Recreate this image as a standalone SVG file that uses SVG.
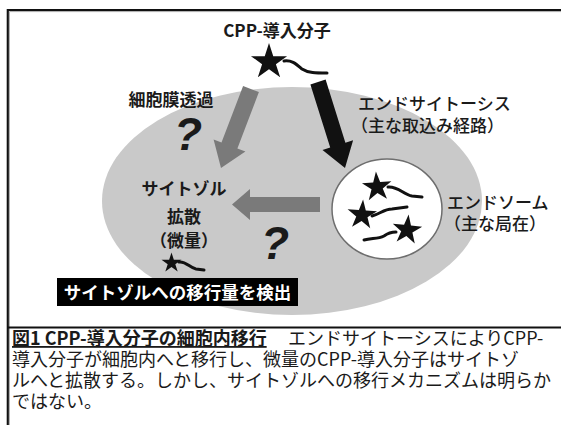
<svg xmlns="http://www.w3.org/2000/svg" xmlns:xlink="http://www.w3.org/1999/xlink" width="561" height="425" viewBox="0 0 561 425">
  <style>
    .jp { font-family: "Noto Sans CJK JP", "Noto Sans", sans-serif; fill: #1a1a1a; }
    .lbl { font-size: 17px; font-weight: 700; }
    .lbl-r { font-size: 17px; font-weight: 500; }
    .q { font-family: "Liberation Sans", Arial, sans-serif; font-size: 46px; font-weight: 700; font-style: italic; fill: #1a1a1a; }
    .cap { font-size: 18px; font-weight: 400; }
    .cap-title { font-weight: 700; text-decoration: underline; }
    .tail { fill: none; stroke: #111; stroke-width: 3; stroke-linecap: round; }
    .arrow-gray { fill: #7a7a7a; }
    .arrow-black { fill: #111; }
  </style>
  <defs>
    <!-- five-point star, outer radius 10 -->
    <path id="star" d="M0,-10 L2.245,-3.09 L9.511,-3.09 L3.633,1.18 L5.878,8.09 L0,3.82 L-5.878,8.09 L-3.633,1.18 L-9.511,-3.09 L-2.245,-3.09 Z" fill="#111"/>
  </defs>

  <rect width="561" height="425" fill="#ffffff"/>

  <!-- frame -->
  <g id="frame" fill="none">
    <path d="M562,10 H7.8 V426" stroke="#111" stroke-width="2.2"/>
    <path d="M562,11.6 H9.4 V426" stroke="#aaa" stroke-width="1"/>
    <path d="M7,327.5 H562" stroke="#111" stroke-width="2.2"/>
  </g>

  <!-- cell -->
  <g id="cell">
    <ellipse cx="292" cy="201" rx="190" ry="114" fill="#c9c9c9"/>
  </g>

  <!-- incoming CPP-conjugate -->
  <g id="cpp">
    <text class="jp lbl" x="277" y="37" text-anchor="middle">CPP-導入分子</text>
    <use xlink:href="#star" transform="translate(269,62) scale(1.9)"/>
    <path class="tail" d="M284,61 C292,60 296,64 302,69 C308,73 316,73 327,73"/>
  </g>

  <!-- arrows -->
  <g id="connectors">
    <polygon class="arrow-gray" points="243.1,86 258.9,92 237.4,148.6 245.4,151.6 221,168 213.6,139.6 221.5,142.6"/>
    <polygon class="arrow-black" points="310.4,84.4 325.6,79.6 345.4,142.7 353.1,140.3 345,168 322.5,149.9 330.2,147.5"/>
    <polygon class="arrow-gray" points="320,197 250,197 250,189 232,204.5 250,220 250,212 320,212"/>
  </g>

  <!-- membrane permeation -->
  <g id="permeation">
    <text class="jp lbl" x="171" y="106" text-anchor="middle">細胞膜透過</text>
    <text class="q" x="188" y="150" text-anchor="middle">?</text>
  </g>

  <!-- endocytosis -->
  <g id="endocytosis">
    <text class="jp lbl-r" x="358" y="110">エンドサイトーシス</text>
    <text class="jp lbl-r" x="351" y="132">（主な取込み経路）</text>
  </g>

  <!-- endosome -->
  <g id="endosome">
    <ellipse cx="387" cy="209" rx="55" ry="50" fill="#ffffff" stroke="#6e6e6e" stroke-width="1.5"/>
    <use xlink:href="#star" transform="translate(377,187) rotate(-4) scale(1.55)"/>
    <path class="tail" d="M388,187 C398,186 404,195 412,196 L422,197"/>
    <use xlink:href="#star" transform="translate(362,215) rotate(4) scale(1.55)"/>
    <path class="tail" d="M372,216 C380,214 384,209 392,209 L407,207"/>
    <use xlink:href="#star" transform="translate(407,230) rotate(6) scale(1.55)"/>
    <path class="tail" d="M364,240 C372,238 378,239 384,236 C388,233 391,232 396,232"/>
    <text class="jp lbl-r" x="447" y="209">エンドソーム</text>
    <text class="jp lbl-r" x="444" y="230">（主な局在）</text>
  </g>

  <!-- cytosolic diffusion -->
  <g id="cytosol">
    <text class="jp lbl" x="184" y="195" text-anchor="middle">サイトゾル</text>
    <text class="jp lbl" x="184" y="223" text-anchor="middle">拡散</text>
    <text class="jp lbl" x="184" y="247" text-anchor="middle">（微量）</text>
    <use xlink:href="#star" transform="translate(171.5,263) scale(1.05)"/>
    <path class="tail" d="M179,262 C186,261 190,268 196,269 L204,270"/>
    <text class="q" x="275" y="259" text-anchor="middle">?</text>
  </g>

  <!-- detection label -->
  <g id="detection">
    <rect x="57" y="278" width="241" height="28" fill="#000"/>
    <text class="jp" x="177.5" y="299" text-anchor="middle" font-size="17.5" font-weight="700" style="fill:#fff">サイトゾルへの移行量を検出</text>
  </g>

  <!-- caption paragraph -->
  <g id="caption">
    <text class="jp cap" x="12" y="345"><tspan class="cap-title">図1 CPP-導入分子の細胞内移行</tspan><tspan x="288">エンドサイトーシスによりCPP-</tspan><tspan x="12" dy="21">導入分子が細胞内へと移行し、微量のCPP-導入分子はサイトゾ</tspan><tspan x="12" dy="21">ルへと拡散する。しかし、サイトゾルへの移行メカニズムは明らか</tspan><tspan x="12" dy="21">ではない。</tspan></text>
  </g>
</svg>
